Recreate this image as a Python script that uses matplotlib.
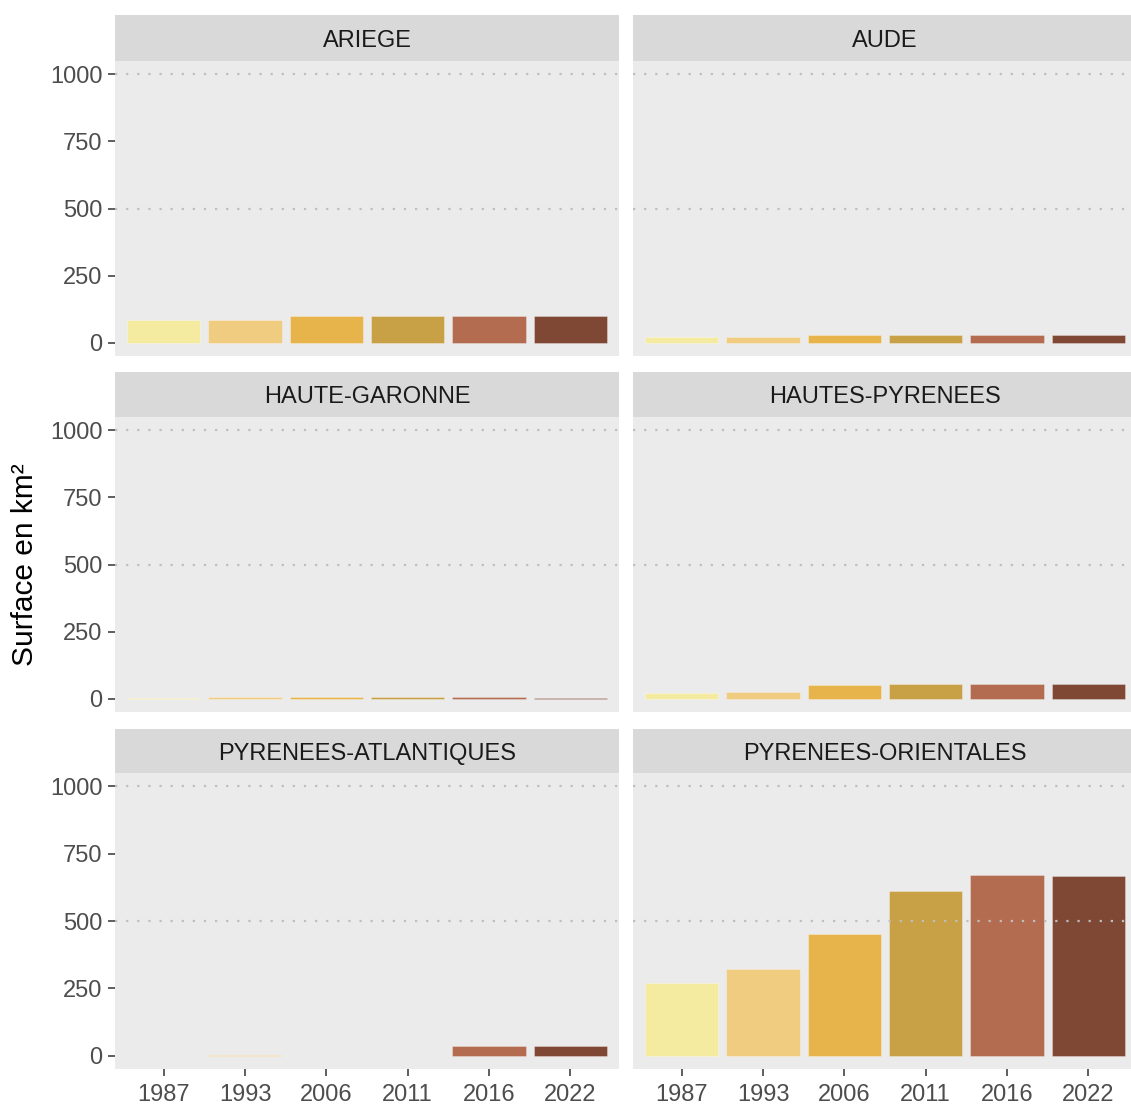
import numpy as np
import matplotlib.pyplot as plt

## data (surface in km2)
annees = ['1987', '1993', '2006', '2011', '2016', '2022']
departements = ['ARIEGE', 'AUDE', 'HAUTE-GARONNE', 'HAUTES-PYRENEES',
                'PYRENEES-ATLANTIQUES', 'PYRENEES-ORIENTALES']
ariege = [85, 85, 100, 100, 100, 100]
aude = [20, 19, 30, 29, 29, 29]
haute_garonne = [1, 6, 6, 6, 6, 2]
hautes_pyrenees = [22, 26, 50, 56, 56, 56]
pyrenees_atlantiques = [0, 3, 0, 0, 37, 37]
pyrenees_orientales = [268, 323, 453, 610, 672, 669]
couleurs = ['#F5EBA0', '#F0CC80', '#E6B44B', '#C8A045', '#B36C4F', '#7E4835']

valeurs = [ariege, aude, haute_garonne, hautes_pyrenees,
           pyrenees_atlantiques, pyrenees_orientales]

plt.rcParams['font.family'] = ['Liberation Sans', 'DejaVu Sans']

W, H = 1131, 1106
fig = plt.figure(figsize=(W / 100, H / 100), dpi=100)

# panel geometry in pixels (left, right) and (strip top, plot top, plot bottom)
cols = [(115, 619), (633, 1137)]
rows = [(15, 61, 356), (372, 417, 712), (729, 773, 1069)]

x = np.arange(len(annees))
for i, (dep, vals) in enumerate(zip(departements, valeurs)):
    r, c = divmod(i, 2)
    x0, x1 = cols[c]
    s0, p0, p1 = rows[r]

    ax = fig.add_axes([x0 / W, 1 - p1 / H, (x1 - x0) / W, (p1 - p0) / H])
    ax.set_facecolor('#EBEBEB')
    bords = [(1, 1, 1, 0.35) if v > 0 else (1, 1, 1, 0) for v in vals]
    ax.bar(x, vals, width=0.9, color=couleurs, edgecolor=bords,
           linewidth=0.6, zorder=2)
    for g in [500, 1000]:
        ax.axhline(g, color='#BEBEBE', linestyle=(0, (1, 4)), linewidth=1.6, zorder=3)
    ax.set_xlim(-0.6, 5.6)
    ax.set_ylim(-50, 1050)
    for sp in ax.spines.values():
        sp.set_visible(False)

    ax.set_yticks([0, 250, 500, 750, 1000])
    ax.set_xticks(x)
    ax.tick_params(colors='#333333', length=5, width=1.1, labelsize=17,
                   labelcolor='#4D4D4D', pad=4)
    ax.tick_params(axis='x', pad=6)
    if c == 0:
        ax.set_yticklabels(['0', '250', '500', '750', '1000'])
    else:
        ax.tick_params(axis='y', length=0, labelleft=False)
    if r == 2:
        ax.set_xticklabels(annees)
    else:
        ax.tick_params(axis='x', length=0, labelbottom=False)

    # strip
    st = fig.add_axes([x0 / W, 1 - p0 / H, (x1 - x0) / W, (p0 - s0) / H])
    st.set_facecolor('#D9D9D9')
    st.set_xticks([])
    st.set_yticks([])
    for sp in st.spines.values():
        sp.set_visible(False)
    st.text(0.5, 0.44, dep, ha='center', va='center', fontsize=17,
            color='#1A1A1A', transform=st.transAxes)

fig.text(25 / W, 1 - 565 / H, 'Surface en km²', rotation=90, ha='center',
         va='center', fontsize=21.5, color='black')

plt.savefig('out.png', dpi=100)
